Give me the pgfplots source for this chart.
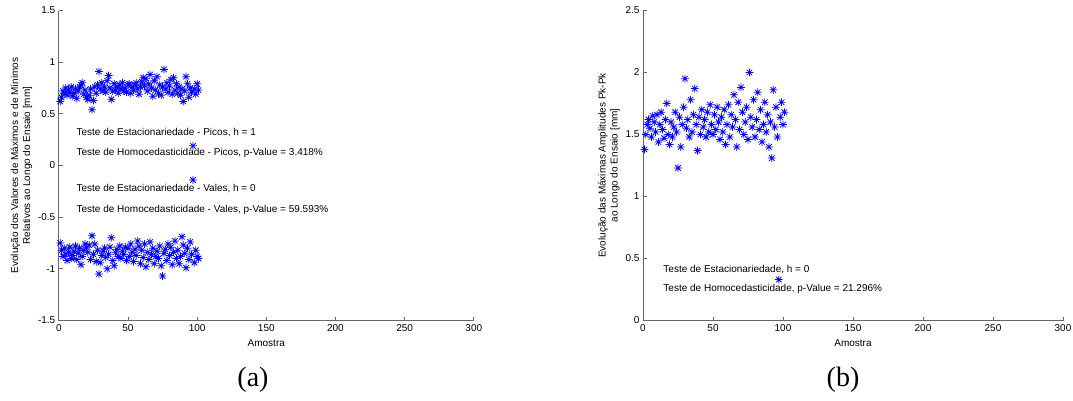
\documentclass[border=0pt]{standalone}
\usepackage{fontspec}
\setmainfont{Liberation Sans}
\newfontfamily\serif{Liberation Serif}
\usepackage{pgfplots}
\pgfplotsset{compat=1.18}
\usepackage{pgfplotstable}

\pgfdeclareplotmark{mstar}{%
 \pgfpathmoveto{\pgfqpoint{-\pgfplotmarksize}{0pt}}\pgfpathlineto{\pgfqpoint{\pgfplotmarksize}{0pt}}%
 \pgfpathmoveto{\pgfqpoint{0pt}{-\pgfplotmarksize}}\pgfpathlineto{\pgfqpoint{0pt}{\pgfplotmarksize}}%
 \pgfpathmoveto{\pgfqpoint{-0.707\pgfplotmarksize}{-0.707\pgfplotmarksize}}\pgfpathlineto{\pgfqpoint{0.707\pgfplotmarksize}{0.707\pgfplotmarksize}}%
 \pgfpathmoveto{\pgfqpoint{-0.707\pgfplotmarksize}{0.707\pgfplotmarksize}}\pgfpathlineto{\pgfqpoint{0.707\pgfplotmarksize}{-0.707\pgfplotmarksize}}%
 \pgfusepathqstroke}

\pgfplotstableread[row sep=\\]{x y\\
1 0.62\\ 2 0.66\\ 3 0.72\\ 4 0.70\\ 5 0.75\\ 6 0.68\\ 7 0.73\\ 8 0.71\\ 9 0.76\\ 10 0.67\\
11 0.70\\ 12 0.74\\ 13 0.65\\ 14 0.72\\ 15 0.76\\ 16 0.78\\ 17 0.80\\ 18 0.69\\ 19 0.73\\ 20 0.66\\
21 0.64\\ 22 0.68\\ 23 0.74\\ 24 0.54\\ 25 0.63\\ 26 0.76\\ 27 0.70\\ 28 0.78\\ 29 0.91\\ 30 0.74\\
31 0.80\\ 32 0.72\\ 33 0.76\\ 34 0.71\\ 35 0.82\\ 36 0.87\\ 37 0.75\\ 38 0.64\\ 39 0.72\\ 40 0.79\\
41 0.73\\ 42 0.76\\ 43 0.70\\ 44 0.78\\ 45 0.74\\ 46 0.80\\ 47 0.72\\ 48 0.75\\ 49 0.71\\ 50 0.78\\
51 0.79\\ 52 0.70\\ 53 0.76\\ 54 0.73\\ 55 0.78\\ 56 0.80\\ 57 0.74\\ 58 0.69\\ 59 0.76\\ 60 0.81\\
61 0.85\\ 62 0.77\\ 63 0.84\\ 64 0.72\\ 65 0.79\\ 66 0.88\\ 67 0.75\\ 68 0.67\\ 69 0.82\\ 70 0.73\\
71 0.86\\ 72 0.70\\ 73 0.78\\ 74 0.68\\ 75 0.76\\ 76 0.93\\ 77 0.74\\ 78 0.80\\ 79 0.71\\ 80 0.77\\
81 0.83\\ 82 0.69\\ 83 0.85\\ 84 0.73\\ 85 0.79\\ 86 0.70\\ 87 0.76\\ 88 0.68\\ 89 0.74\\ 90 0.62\\
91 0.72\\ 92 0.86\\ 93 0.79\\ 94 0.66\\ 95 0.75\\ 96 0.71\\ 97 0.19\\ 98 0.74\\ 99 0.69\\ 100 0.79\\ 101 0.73\\
}\picos

\pgfplotstableread[row sep=\\]{x y\\
1 -0.75\\ 2 -0.82\\ 3 -0.88\\ 4 -0.80\\ 5 -0.86\\ 6 -0.92\\ 7 -0.84\\ 8 -0.79\\ 9 -0.90\\ 10 -0.87\\
11 -0.83\\ 12 -0.78\\ 13 -0.91\\ 14 -0.85\\ 15 -0.80\\ 16 -0.96\\ 17 -0.88\\ 18 -0.82\\ 19 -0.76\\ 20 -0.79\\
21 -0.84\\ 22 -0.77\\ 23 -0.91\\ 24 -0.68\\ 25 -0.86\\ 26 -0.76\\ 27 -0.93\\ 28 -0.82\\ 29 -1.05\\ 30 -0.94\\
31 -0.87\\ 32 -0.83\\ 33 -0.80\\ 34 -0.89\\ 35 -1.00\\ 36 -0.86\\ 37 -0.79\\ 38 -0.70\\ 39 -0.92\\ 40 -0.97\\
41 -0.84\\ 42 -0.81\\ 43 -0.88\\ 44 -0.78\\ 45 -0.90\\ 46 -0.83\\ 47 -0.86\\ 48 -0.79\\ 49 -0.92\\ 50 -0.80\\
51 -0.88\\ 52 -0.76\\ 53 -0.84\\ 54 -0.93\\ 55 -0.81\\ 56 -0.87\\ 57 -0.73\\ 58 -0.78\\ 59 -0.95\\ 60 -0.82\\
61 -0.89\\ 62 -0.76\\ 63 -0.98\\ 64 -0.84\\ 65 -0.91\\ 66 -0.74\\ 67 -0.86\\ 68 -0.80\\ 69 -0.95\\ 70 -0.88\\
71 -0.83\\ 72 -0.90\\ 73 -0.78\\ 74 -0.97\\ 75 -1.07\\ 76 -0.85\\ 77 -0.81\\ 78 -0.92\\ 79 -0.76\\ 80 -0.87\\
81 -0.79\\ 82 -0.96\\ 83 -0.84\\ 84 -0.73\\ 85 -0.90\\ 86 -0.82\\ 87 -0.95\\ 88 -0.88\\ 89 -0.69\\ 90 -0.77\\
91 -0.85\\ 92 -0.99\\ 93 -0.80\\ 94 -0.91\\ 95 -0.74\\ 96 -0.86\\ 97 -0.14\\ 98 -0.94\\ 99 -0.82\\ 100 -0.88\\ 101 -0.90\\
}\vales

\pgfplotstableread[row sep=\\]{x y\\
1 1.38\\ 2 1.50\\ 3 1.58\\ 4 1.62\\ 5 1.55\\ 6 1.48\\ 7 1.65\\ 8 1.60\\ 9 1.52\\ 10 1.66\\
11 1.44\\ 12 1.58\\ 13 1.68\\ 14 1.54\\ 15 1.47\\ 16 1.62\\ 17 1.75\\ 18 1.50\\ 19 1.42\\ 20 1.60\\
21 1.48\\ 22 1.56\\ 23 1.68\\ 24 1.52\\ 25 1.23\\ 26 1.64\\ 27 1.40\\ 28 1.58\\ 29 1.72\\ 30 1.95\\
31 1.55\\ 32 1.62\\ 33 1.48\\ 34 1.78\\ 35 1.52\\ 36 1.66\\ 37 1.87\\ 38 1.58\\ 39 1.37\\ 40 1.64\\
41 1.50\\ 42 1.70\\ 43 1.56\\ 44 1.62\\ 45 1.48\\ 46 1.68\\ 47 1.52\\ 48 1.74\\ 49 1.58\\ 50 1.50\\
51 1.66\\ 52 1.54\\ 53 1.72\\ 54 1.60\\ 55 1.46\\ 56 1.64\\ 57 1.52\\ 58 1.70\\ 59 1.42\\ 60 1.58\\
61 1.74\\ 62 1.48\\ 63 1.66\\ 64 1.56\\ 65 1.82\\ 66 1.62\\ 67 1.40\\ 68 1.76\\ 69 1.54\\ 70 1.88\\
71 1.68\\ 72 1.50\\ 73 1.60\\ 74 1.72\\ 75 1.46\\ 76 2.00\\ 77 1.64\\ 78 1.56\\ 79 1.78\\ 80 1.48\\
81 1.62\\ 82 1.84\\ 83 1.54\\ 84 1.70\\ 85 1.44\\ 86 1.58\\ 87 1.76\\ 88 1.52\\ 89 1.66\\ 90 1.40\\
91 1.60\\ 92 1.31\\ 93 1.86\\ 94 1.56\\ 95 1.72\\ 96 1.48\\ 97 0.33\\ 98 1.64\\ 99 1.76\\ 100 1.58\\ 101 1.68\\
}\pkpk

\pgfplotsset{
  mstyle/.style={
    scale only axis, width=415pt, height=310pt,
    axis lines*=left, axis line style={black!60, line width=0.7pt},
    tick align=inside, major tick length=4pt,
    tick style={black!60, line width=0.7pt},
    xmin=0, xmax=300, xtick={0,50,...,300},
    enlargelimits=false, clip=false,
    /pgf/number format/assume math mode=true,
    tick label style={font=\fontsize{10}{12}\selectfont},
    label style={font=\fontsize{10}{12}\selectfont},
    xlabel={Amostra},
    xlabel style={yshift=-2pt},
    ylabel style={align=center},
  },
  dstyle/.style={only marks, mark=mstar, mark size=3.9pt, color={rgb,1:red,0;green,0;blue,1}, mark options={line width=0.75pt}},
}

\begin{document}
\begin{tikzpicture}[x=1pt,y=1pt]
\useasboundingbox (0,0) rectangle (1073,400);
\begin{axis}[mstyle, at={(58.8pt,79.5pt)}, anchor=south west,
  ymin=-1.5, ymax=1.5, ytick={-1.5,-1,-0.5,0,0.5,1,1.5},
  ylabel={Evolução dos Valores de Máximos e de Mínimos\\Relativos ao Longo do Ensaio [mm]},
  ylabel style={at={(axis description cs:-0.09,0.5)}, anchor=center}]
\addplot[dstyle] table {\picos};
\addplot[dstyle] table {\vales};
\node[anchor=west, font=\fontsize{10}{12}\selectfont] at (axis cs:10.3,0.318) {Teste de Estacionariedade - Picos, h = 1};
\node[anchor=west, font=\fontsize{10}{12}\selectfont] at (axis cs:10.3,0.125) {Teste de Homocedasticidade - Picos, p-Value = 3.418\%};
\node[anchor=west, font=\fontsize{10}{12}\selectfont] at (axis cs:10.3,-0.223) {Teste de Estacionariedade - Vales, h = 0};
\node[anchor=west, font=\fontsize{10}{12}\selectfont] at (axis cs:10.3,-0.426) {Teste de Homocedasticidade - Vales, p-Value = 59.593\%};
\end{axis}
\begin{axis}[mstyle, at={(643pt,79.5pt)}, anchor=south west, width=420pt,
  ymin=0, ymax=2.5, ytick={0,0.5,1,1.5,2,2.5},
  ylabel={Evolução das Máximas Amplitudes Pk-Pk\\ao Longo do Ensaio [mm]},
  ylabel style={at={(axis description cs:-0.081,0.5)}, anchor=center}]
\addplot[dstyle] table {\pkpk};
\node[anchor=west, font=\fontsize{10}{12}\selectfont] at (axis cs:12.1,0.41) {Teste de Estacionariedade, h = 0};
\node[anchor=west, font=\fontsize{10}{12}\selectfont] at (axis cs:12.1,0.258) {Teste de Homocedasticidade, p-Value = 21.296\%};
\end{axis}
\node[font=\serif\fontsize{28}{32}\selectfont] at (253,20) {(a)};
\node[font=\serif\fontsize{28}{32}\selectfont] at (843,20) {(b)};
\end{tikzpicture}
\end{document}
